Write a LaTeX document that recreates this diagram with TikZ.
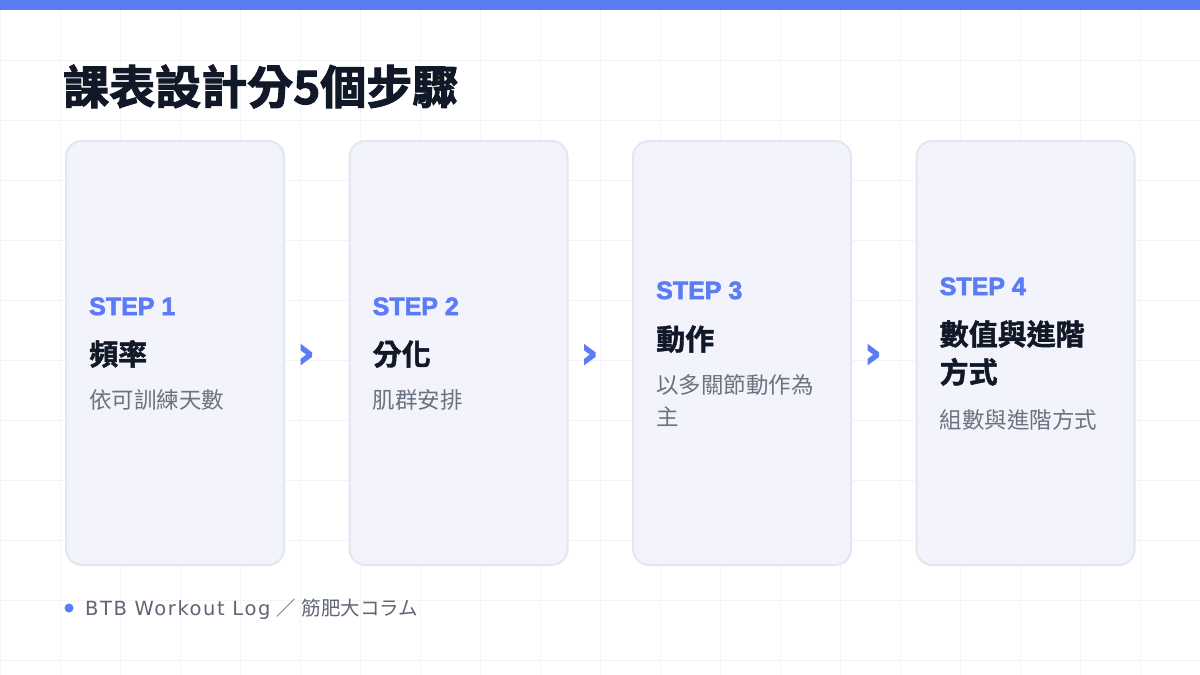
\documentclass[tikz,border=0pt]{standalone}
\usepackage{fontspec}
\usepackage{xcolor}
\setmainfont{Noto Sans CJK TC}
\newfontfamily\cjk{Noto Sans CJK TC}[BoldFont=* Bold, BoldFeatures={FakeBold=1.5}]
\newfontfamily\cjkheavy{Noto Sans CJK TC Bold}[FakeBold=2.2]
\newfontfamily\latinfont{Liberation Sans Bold}[FakeBold=2.5]
\newfontfamily\footfont{DejaVu Sans}[LetterSpace=8]
\newfontfamily\chevfont{DejaVu Sans Bold}[FakeBold=3]
\usetikzlibrary{positioning}
\definecolor{stepblue}{HTML}{5B7CF5}
\definecolor{inkdark}{HTML}{111827}
\definecolor{inkgray}{HTML}{6B7280}
\definecolor{footgray}{HTML}{5E6573}
\definecolor{cardfill}{HTML}{F3F4FB}
\definecolor{cardline}{HTML}{E2E6F1}
\definecolor{gridgray}{HTML}{F3F4F7}
\tikzset{%
	card/.style      = {draw=cardline, fill=cardfill, line width=2pt, rounded corners=16pt, minimum width=218pt, minimum height=424pt, inner sep=0pt},
	headline/.style  = {text=inkdark, font=\cjkheavy\fontsize{46pt}{56pt}\selectfont, inner sep=0pt, anchor=base west},
	steplabel/.style = {text=stepblue, font=\latinfont\fontsize{25pt}{30pt}\selectfont, inner sep=0pt, anchor=base west},
	steptitle/.style = {text=inkdark, font=\cjk\bfseries\fontsize{29pt}{38pt}\selectfont, inner sep=0pt},
	stepdesc/.style  = {text=inkgray, font=\cjk\fontsize{22.5pt}{31pt}\selectfont, inner sep=0pt},
	chevron/.style   = {text=stepblue, font=\chevfont\fontsize{42pt}{48pt}\selectfont, inner sep=0pt},
	footdot/.style   = {circle, fill=stepblue, minimum size=9pt, inner sep=0pt},
	footnote/.style  = {text=footgray, font=\fontsize{19.5pt}{24pt}\selectfont, inner sep=0pt, anchor=base west},
}
\begin{document}
\begin{tikzpicture}[x=1pt, y=-1pt, node distance=63.5pt]
		\useasboundingbox (0,0) rectangle (1200,675);
		\fill[white] (0,0) rectangle (1200,675);
		\draw[gridgray, line width=1pt] (0,675) grid[step=60pt] (1200,0);
		\fill[stepblue] (0,0) rectangle (1200,10);
		
		\node[headline] (head) at (63,104) {課表設計分5個步驟};
		
		\node[card] (card1) at (175,353) {};
		\node[card, right=of card1] (card2) {};
		\node[card, right=of card2] (card3) {};
		\node[card, right=of card3] (card4) {};
		
		\node[steplabel] (s1) at (89,315) {STEP 1};
		\node[steptitle, below=50pt of s1.base west, anchor=base west] (t1) {頻率};
		\node[stepdesc, below=43.5pt of t1.base west, anchor=base west] (d1) {依可訓練天數};
		
		\node[steplabel] (s2) at (372.5,315) {STEP 2};
		\node[steptitle, below=50pt of s2.base west, anchor=base west] (t2) {分化};
		\node[stepdesc, below=43.5pt of t2.base west, anchor=base west] (d2) {肌群安排};
		
		\node[steplabel] (s3) at (656,299) {STEP 3};
		\node[steptitle, below=51pt of s3.base west, anchor=base west] (t3) {動作};
		\node[stepdesc, below=43.5pt of t3.base west, anchor=base west] (d3) {以多關節動作為};
		\node[stepdesc, below=31.5pt of d3.base west, anchor=base west] (d3b) {主};
		
		\node[steplabel] (s4) at (939.5,295) {STEP 4};
		\node[steptitle, below=50pt of s4.base west, anchor=base west] (t4) {數值與進階};
		\node[steptitle, below=38pt of t4.base west, anchor=base west] (t4b) {方式};
		\node[stepdesc, below=45.5pt of t4b.base west, anchor=base west] (d4) {組數與進階方式};
		
		\node[chevron, right=21pt of card1.east, anchor=center, yshift=-3pt] (c12) {›};
		\node[chevron, right=21pt of card2.east, anchor=center, yshift=-3pt] (c23) {›};
		\node[chevron, right=21pt of card3.east, anchor=center, yshift=-3pt] (c34) {›};
		
		\node[footdot] (dot) at (69,608) {};
		\node[footnote] (foot) at (85,615) {{\footfont BTB Workout Log}\hspace{6pt}／\hspace{6pt}筋肥大コラム};
\end{tikzpicture}
\end{document}
